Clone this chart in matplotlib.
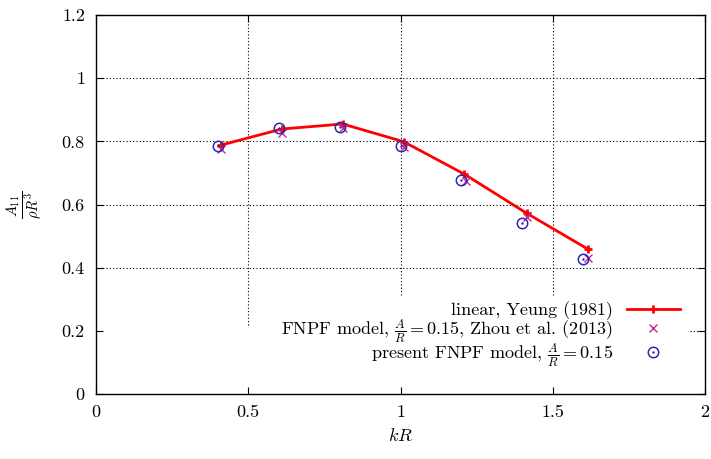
import matplotlib
matplotlib.use("Agg")
import matplotlib.pyplot as plt
import numpy as np

plt.rcParams['font.family'] = 'serif'
plt.rcParams['font.serif'] = ['cmr10']
plt.rcParams['mathtext.fontset'] = 'cm'
plt.rcParams['axes.formatter.use_mathtext'] = True
plt.rcParams['font.size'] = 13

# linear, Yeung (1981)
kr_lin = [0.41, 0.61, 0.81, 1.01, 1.21, 1.415, 1.615]
a_lin = [0.788, 0.839, 0.855, 0.799, 0.696, 0.572, 0.459]

# FNPF model, Zhou et al. (2013)
kr_zhou = [0.41, 0.61, 0.81, 1.01, 1.215, 1.415, 1.615]
a_zhou = [0.775, 0.825, 0.841, 0.783, 0.675, 0.561, 0.431]

# present FNPF model
kr_pres = [0.40, 0.60, 0.80, 1.00, 1.20, 1.40, 1.60]
a_pres = [0.786, 0.843, 0.846, 0.786, 0.678, 0.543, 0.426]

xticks = [0, 0.5, 1, 1.5, 2]
xticklabels = ['0', '0.5', '1', '1.5', '2']
yticks = [0, 0.2, 0.4, 0.6, 0.8, 1.0, 1.2]
yticklabels = ['0', '0.2', '0.4', '0.6', '0.8', '1', '1.2']

fig = plt.figure(figsize=(7.11, 4.59), dpi=100)
ax = fig.add_axes([0.135, 0.1416, 0.8566, 0.8257])

# grid (dotted), partly hidden by the key like gnuplot does
for yv in [0.4, 0.6, 0.8, 1.0]:
    ax.axhline(yv, color='black', lw=0.8, ls=(0, (1, 2)), zorder=0)
ax.axhline(0.2, xmin=0.975, color='black', lw=0.8, ls=(0, (1, 2)), zorder=0)
for xv in [0.5, 1.0, 1.5]:
    ax.axvline(xv, ymin=0.182, color='black', lw=0.8, ls=(0, (1, 2)), zorder=0)

l1, = ax.plot(kr_lin, a_lin, color='red', lw=2, marker='+', ms=6, mew=2,
              zorder=3)
l2, = ax.plot(kr_zhou, a_zhou, ls='none', color='#c8289a', marker='x', ms=6,
              mew=1.0, zorder=4)
l3, = ax.plot(kr_pres, a_pres, ls='none', color='#2a2ab0', marker='o', ms=7.5,
              mfc='none', mew=1.1, zorder=5)
l3d, = ax.plot(kr_pres, a_pres, ls='none', color='#2a2ab0', marker='.', ms=1.5,
               zorder=5)

ax.set_xlim(0, 2)
ax.set_ylim(0, 1.2)
ax.set_xticks(xticks)
ax.set_xticklabels(xticklabels)
ax.set_yticks(yticks)
ax.set_yticklabels(yticklabels)
ax.tick_params(direction='in', length=5, top=True, right=True, pad=8)
for s in ax.spines.values():
    s.set_linewidth(1.0)

ax.set_xlabel(r'$kR$', labelpad=5)
ax.set_ylabel(r'$\frac{A_{11}}{\rho R^3}$', fontsize=15, labelpad=12)

leg = ax.legend([l1, l2, (l3, l3d)],
                ['linear, Yeung (1981)',
                 r'FNPF model, $\frac{A}{R}=0.15$, Zhou et al. (2013)',
                 r'present FNPF model, $\frac{A}{R}=0.15$'],
                loc='lower right', bbox_to_anchor=(0.982, 0.028),
                markerfirst=False, frameon=True, handlelength=2.9,
                labelspacing=-0.18, borderpad=0.3, handletextpad=0.8,
                fontsize=13)
leg.get_frame().set_edgecolor('none')
leg.get_frame().set_facecolor('white')
leg.get_frame().set_alpha(1.0)
for t in leg.get_texts():
    t.set_ha('right')

fig.savefig('out.png', dpi=100)
